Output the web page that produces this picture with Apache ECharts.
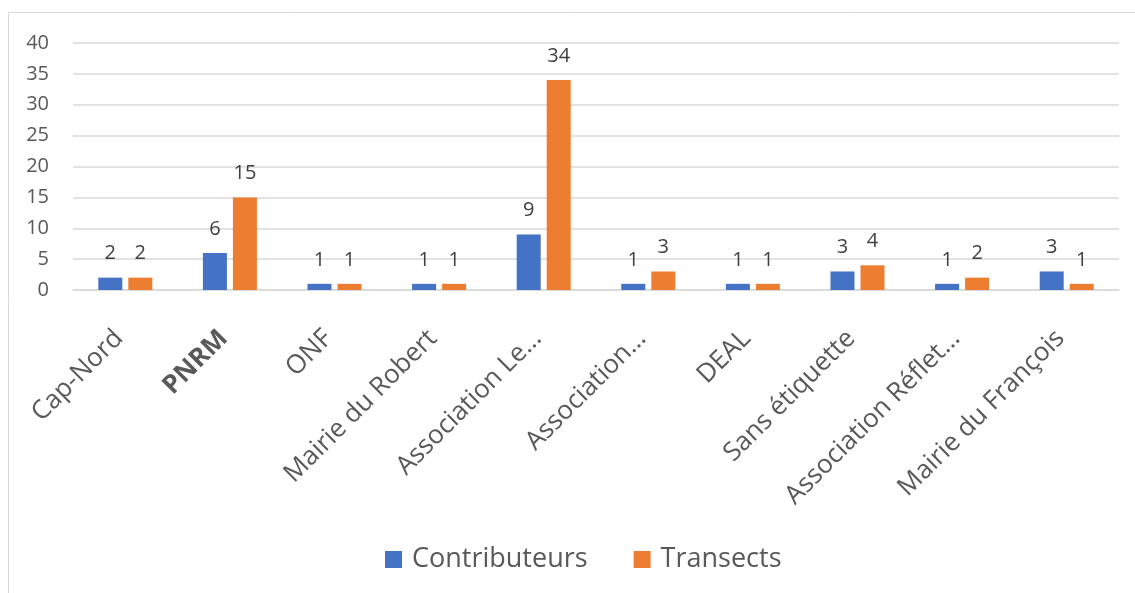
<!DOCTYPE html>
<html>
<head>
<meta charset="utf-8">
<script src="https://cdn.jsdelivr.net/npm/echarts@6/dist/echarts.min.js"></script>
<style>
  html, body { margin: 0; padding: 0; background: #fff; }
  #chart { width: 1135px; height: 593px; }
</style>
</head>
<body>
<div id="chart"></div>
<script>
// categories and values
var categories = ['Cap-Nord', 'PNRM', 'ONF', 'Mairie du Robert', 'Association Le…',
  'Association…', 'DEAL', 'Sans étiquette', 'Association Réflet…', 'Mairie du François'];
var contributeurs = [2, 6, 1, 1, 9, 1, 1, 3, 1, 3];
var transects = [2, 15, 1, 1, 34, 3, 1, 4, 2, 1];
var yTicks = [0, 5, 10, 15, 20, 25, 30, 35, 40];

var font = '"Open Sans", "Noto Sans", sans-serif';
var chart = echarts.init(document.getElementById('chart'));

var option = {
  animation: false,
  textStyle: { fontFamily: font },
  graphic: [{
    type: 'rect',
    shape: { x: 8.5, y: 12.5, width: 1140, height: 600 },
    style: { fill: 'none', stroke: '#d9d9d9', lineWidth: 1 },
    silent: true
  }],
  grid: { left: 73, right: 16, top: 43, bottom: 303, containLabel: false },
  legend: {
    top: 541,
    left: 380,
    itemWidth: 17,
    itemHeight: 17,
    itemGap: 46,
    icon: 'rect',
    textStyle: { fontSize: 27, color: '#595959', fontFamily: font, padding: [0, 0, 0, 5] },
    data: ['Contributeurs', 'Transects']
  },
  xAxis: {
    type: 'category',
    data: categories,
    axisLine: { lineStyle: { color: '#d9d9d9', width: 1.5 } },
    axisTick: { show: false },
    axisLabel: {
      rotate: 45,
      interval: 0,
      margin: 38,
      padding: [0, 9, 0, 0],
      fontSize: 26,
      color: '#595959',
      fontFamily: font,
      formatter: function (v) {
        return v === 'PNRM' ? '{b|' + v + '}' : v;
      },
      rich: { b: { fontWeight: 'bold', fontSize: 26, color: '#595959', fontFamily: font } }
    }
  },
  yAxis: {
    type: 'value',
    min: yTicks[0],
    max: yTicks[yTicks.length - 1],
    interval: 5,
    axisLine: { show: false },
    axisTick: { show: false },
    axisLabel: { fontSize: 20, color: '#595959', margin: 24, fontFamily: font },
    splitLine: { lineStyle: { color: '#d9d9d9', width: 1.5 } }
  },
  series: [{
    name: 'Contributeurs',
    type: 'bar',
    data: contributeurs,
    barWidth: 24,
    barGap: '25%',
    itemStyle: { color: '#4472c4' },
    label: { show: true, position: 'top', distance: 14, fontSize: 20, color: '#404040', fontFamily: font }
  }, {
    name: 'Transects',
    type: 'bar',
    data: transects,
    barWidth: 24,
    itemStyle: { color: '#ed7d31' },
    label: { show: true, position: 'top', distance: 14, fontSize: 20, color: '#404040', fontFamily: font }
  }]
};

chart.setOption(option);
</script>
</body>
</html>
